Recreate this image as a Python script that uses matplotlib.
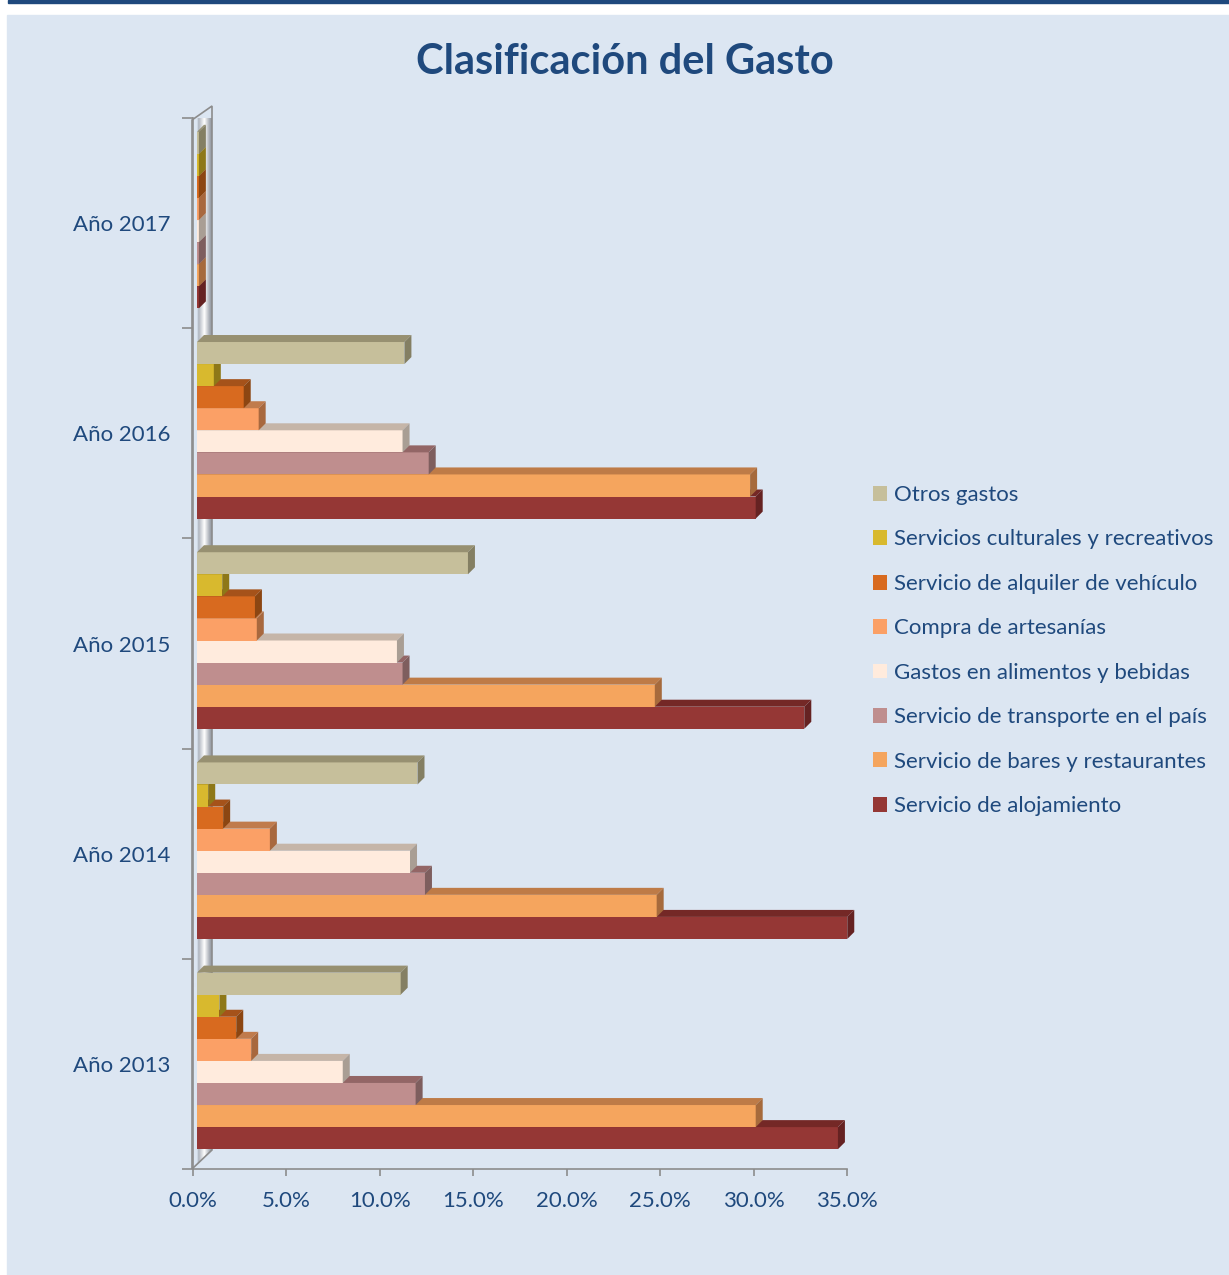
import numpy as np
import matplotlib.pyplot as plt
from matplotlib.patches import Rectangle, Polygon, Patch
from matplotlib.colors import LinearSegmentedColormap

plt.rcParams['font.family'] = ['Lato', 'DejaVu Sans']

# datos (% del gasto)
years = ['Año 2013', 'Año 2014', 'Año 2015', 'Año 2016', 'Año 2017']
series = ['Servicio de alojamiento', 'Servicio de bares y restaurantes',
          'Servicio de transporte en el país', 'Gastos en alimentos y bebidas',
          'Compra de artesanías', 'Servicio de alquiler de vehículo',
          'Servicios culturales y recreativos', 'Otros gastos']
alojamiento = [34.3, 34.8, 32.5, 29.9, 0.1]
bares = [29.9, 24.6, 24.5, 29.6, 0.1]
transporte = [11.7, 12.2, 11.0, 12.4, 0.1]
alimentos = [7.8, 11.4, 10.7, 11.0, 0.1]
artesanias = [2.9, 3.9, 3.2, 3.3, 0.1]
alquiler = [2.1, 1.4, 3.1, 2.5, 0.1]
culturales = [1.2, 0.6, 1.35, 0.9, 0.1]
otros = [10.9, 11.8, 14.5, 11.1, 0.1]
values = [alojamiento, bares, transporte, alimentos, artesanias, alquiler, culturales, otros]
xticks = [0, 5, 10, 15, 20, 25, 30, 35]

# colores: frente, arriba, lado
front = ['#953735', '#F5A55E', '#BF8E8E', '#FFEBDD', '#FBA066', '#D86A1F', '#D8B92E', '#C6BF9B']
top = ['#742826', '#BE7B47', '#936666', '#C5B5A8', '#C07B4C', '#A5521A', '#A58C20', '#979071']
side = ['#652222', '#A66A3C', '#7E5E5E', '#A99E94', '#A8683E', '#8C4612', '#8E7818', '#847F63']

BG = '#DCE6F2'
BLUE = '#1F497D'
GRAY = '#8C8C8C'
W, H = 1229, 1275

fig = plt.figure(figsize=(W / 100, H / 100), dpi=100, facecolor='white')
fig.patches.append(Rectangle((7 / W, 0), 1, 1 - 15 / H, transform=fig.transFigure,
                             color=BG, zorder=-10))
fig.patches.append(Rectangle((8 / W, 1 - 2.5 / H), 1, 2.5 / H, transform=fig.transFigure,
                             color=BLUE, zorder=-10))

left_px, right_px, top_px, bot_px = 193, 847, 118, 1169
ax = fig.add_axes([left_px / W, 1 - bot_px / H, (right_px - left_px) / W, (bot_px - top_px) / H])
ax.set_zorder(5)
ax.patch.set_alpha(0)

sx = (right_px - left_px) / 35.0   # px por %
sy = (bot_px - top_px) / 5.0       # px por categoria

def px(dx, dy):
    return dx / sx, dy / sy

# pared lateral 3D
wx0 = px(-1, 0)[0]
wx1, wy1 = px(19, 19)
wall = Polygon([(wx0, -0.5), (wx1, -0.5 + wy1), (wx1, 4.5 + px(0, 12)[1]), (wx0, 4.5 - px(0, 2)[1])],
               closed=True, facecolor='none', edgecolor=GRAY, lw=1.2, clip_on=False, zorder=1)
ax.add_patch(wall)
grad = np.linspace(0, 1, 200).reshape(1, -1)
cmap = LinearSegmentedColormap.from_list('wall', [(0, BG), (0.25, BG), (0.33, '#AEB4BE'),
                                                  (0.62, '#FFFFFF'), (0.88, '#A8ADB5'), (1, '#8E9399')])
im = ax.imshow(grad, extent=[wx0, wx1, -0.6, 4.6], aspect='auto', cmap=cmap, zorder=0.5)
im.set_clip_path(wall)
ax.set_xlim(0, 35)
ax.set_ylim(-0.5, 4.5)

# barras
bh = 0.105
offx = px(4, 0)[0]
offy = px(0, 3)[1]
ddx, ddy = px(7, 7)
yc = np.arange(len(years))
for g in range(len(years)):
    for j, vals in enumerate(values):
        v = vals[g]
        yb = yc[g] - 4 * bh + j * bh + offy
        z = 3 + j * 0.1
        x0 = offx
        ax.add_patch(Rectangle((x0, yb), v, bh, facecolor=front[j], edgecolor='none', zorder=z))
        ax.add_patch(Polygon([(x0, yb + bh), (x0 + ddx, yb + bh + ddy), (x0 + v + ddx, yb + bh + ddy),
                              (x0 + v, yb + bh)], closed=True, facecolor=top[j], edgecolor='none',
                             zorder=z, clip_on=False))
        ax.add_patch(Polygon([(x0 + v, yb), (x0 + v + ddx, yb + ddy), (x0 + v + ddx, yb + bh + ddy),
                              (x0 + v, yb + bh)], closed=True, facecolor=side[j], edgecolor='none',
                             zorder=z, clip_on=False))

# ejes
for s in ['top', 'right']:
    ax.spines[s].set_visible(False)
for s in ['left', 'bottom']:
    ax.spines[s].set_color(GRAY)
    ax.spines[s].set_linewidth(1.2)
ax.set_xticks(xticks)
ax.set_xticklabels([f'{t:.1f}%' for t in xticks])
ax.tick_params(axis='x', colors=GRAY, labelcolor=BLUE, labelsize=16, length=5, width=1.2, pad=11)
ax.set_yticks(np.arange(-0.5, 5, 1))
ax.set_yticklabels([])
ax.tick_params(axis='y', colors=GRAY, length=8, width=1.2)
ax.set_yticks(yc, minor=True)
ax.set_yticklabels(years, minor=True)
ax.tick_params(axis='y', which='minor', length=0, labelcolor=BLUE, labelsize=16, pad=16)

fig.text(625 / W, 1 - 62 / H, 'Clasificación del Gasto', ha='center', va='center',
         fontsize=30, fontweight='bold', color=BLUE)

handles = [Patch(facecolor=front[j], edgecolor='none', label=series[j]) for j in range(8)][::-1]
fig.legend(handles=handles, loc='upper left', bbox_to_anchor=(873 / W, 1 - 485 / H),
           frameon=False, fontsize=16, labelcolor=BLUE, handlelength=0.65, handleheight=0.65,
           handletextpad=0.3, labelspacing=1.1, borderpad=0, borderaxespad=0)

fig.savefig('out.png', dpi=100, facecolor='white')
